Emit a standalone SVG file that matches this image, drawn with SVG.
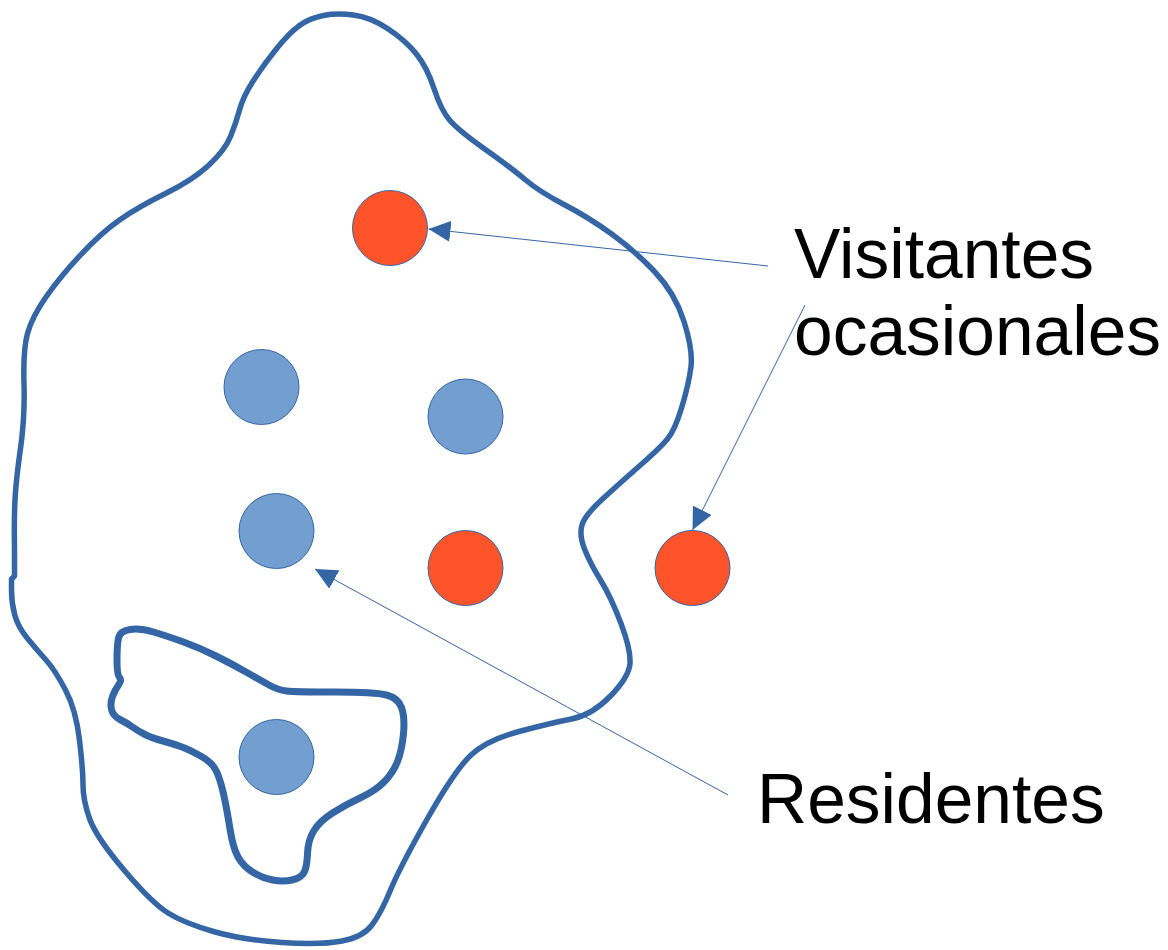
<svg xmlns="http://www.w3.org/2000/svg" width="1168" height="950" viewBox="0 0 1168 950">
<style>
.blob{fill:none;stroke:#3465a4;stroke-linejoin:round;stroke-linecap:round}
.red{fill:#ff5429;stroke:#3465a4;stroke-width:1}
.blue{fill:#729fcf;stroke:#3465a4;stroke-width:1}
.conn{fill:none;stroke:#3465a4;stroke-width:1}
.lbl{font-family:"Liberation Sans",Arial,sans-serif;font-size:69.5px;fill:#000}
</style>
<defs>
<marker id="ah" viewBox="0 0 22 21" refX="22" refY="10.5" markerWidth="22" markerHeight="21" markerUnits="userSpaceOnUse" orient="auto">
<path d="M0,0 L22,10.5 L0,21 Z" fill="#3465a4"/>
</marker>
</defs>
<rect width="1168" height="950" fill="#fff"/>
<g id="outer-region">
<path class="blob" stroke-width="5.5" d="M323.5,15.5 Q337,13 353.5,15 Q370,17 387.5,28.5 Q405,40 416,53.5 Q427,67 434,88.5 Q441,110 449.5,120 Q458,130 484,148.5 Q510,167 525,179.5 Q540,192 564,204.5 Q588,217 611,233.5 Q634,250 654.5,271.5 Q675,293 684,321.5 Q693,350 691,366.5 Q689,383 682,406.5 Q675,430 667.5,439 Q660,448 640,465.5 Q620,483 602.5,499 Q585,515 582,525 Q579,535 584.5,549 Q590,563 600.5,580 Q611,597 621,623.5 Q631,650 630,663.5 Q629,677 610.5,696 Q592,715 571.5,719 Q551,723 519,731.5 Q487,740 471,755 Q455,770 427.5,818.5 Q400,867 390.5,890 Q381,913 372,925 Q363,937 342,941 Q321,945 282,942.5 Q243,940 213.5,931.5 Q184,923 168,913 Q152,903 124,870 Q96,837 89.5,818.5 Q83,800 83,785 Q83,770 79.5,740 Q76,710 65.5,690 Q55,670 46,660 Q37,650 27.5,638.5 Q18,627 14.75,615 Q11.5,603 11.5,590 L11.5,579 L14.5,576 L14.5,546.5 Q14,520 15,500 Q16,480 20.5,448.5 Q25,417 24,383.5 Q23,350 27.5,333.5 Q32,317 46,297 Q60,277 80.5,255 Q101,233 119.5,220 Q138,207 165.5,193.5 Q193,180 209,165 Q225,150 230.5,136.5 Q236,123 239.5,110 Q243,97 252.5,82 Q262,67 275.5,50 Q289,33 299.5,25.5 Q310,18 323.5,15.5 Z"/>
</g>
<g id="inner-region">
<path class="blob" stroke-width="7" d="M118.5,638 Q120,631 130,629.5 Q140,628 153.5,632 Q167,636 183.5,642 Q200,648 216,656 Q232,664 246,672 Q260,680 269,685 Q278,690 286.5,691 Q295,692 335,692 Q375,692 386.5,695 Q398,698 401.5,707.5 Q405,717 403.5,733.5 Q402,750 397.5,761.5 Q393,773 384,782 Q375,791 360,798 Q345,805 332.5,813 Q320,821 314,830.5 Q308,840 307.5,853.5 Q307,867 304,872.5 Q301,878 292,880 Q283,882 272.5,880 Q262,878 252.5,872 Q243,866 238,857 Q233,848 230,829 Q227,810 224,796 Q221,782 217,772.5 Q213,763 201.5,756.5 Q190,750 182,747 Q174,744 163,741 Q152,738 145,734.5 Q138,731 132.5,727 Q127,723 120,719.5 Q113,716 111.5,709.5 Q110,703 112.5,696.5 Q115,690 118.5,685 Q122,680 119.5,677.5 Q117,675 117,660 Q117,645 118.5,638 Z"/>
</g>
<g id="visitor-1"><circle class="red" cx="390" cy="228" r="37.5"/></g>
<g id="resident-1"><circle class="blue" cx="261.5" cy="387" r="37.5"/></g>
<g id="resident-2"><circle class="blue" cx="465.5" cy="416.5" r="37.5"/></g>
<g id="resident-3"><circle class="blue" cx="276.5" cy="531" r="37.5"/></g>
<g id="visitor-2"><circle class="red" cx="465.5" cy="568" r="37.5"/></g>
<g id="visitor-3"><circle class="red" cx="692.5" cy="568" r="37.5"/></g>
<g id="resident-4"><circle class="blue" cx="276.5" cy="757" r="37.5"/></g>
<g id="connectors">
<line class="conn" x1="768" y1="266" x2="428.5" y2="229" marker-end="url(#ah)"/>
<line class="conn" x1="805" y1="305" x2="692.5" y2="530" marker-end="url(#ah)"/>
<line class="conn" x1="728" y1="795" x2="315" y2="569" marker-end="url(#ah)"/>
</g>
<g id="label-visitantes">
<text class="lbl" x="794" y="278">Visitantes</text>
<text class="lbl" x="794" y="355">ocasionales</text>
</g>
<g id="label-residentes">
<text class="lbl" x="757" y="823">Residentes</text>
</g>
</svg>
